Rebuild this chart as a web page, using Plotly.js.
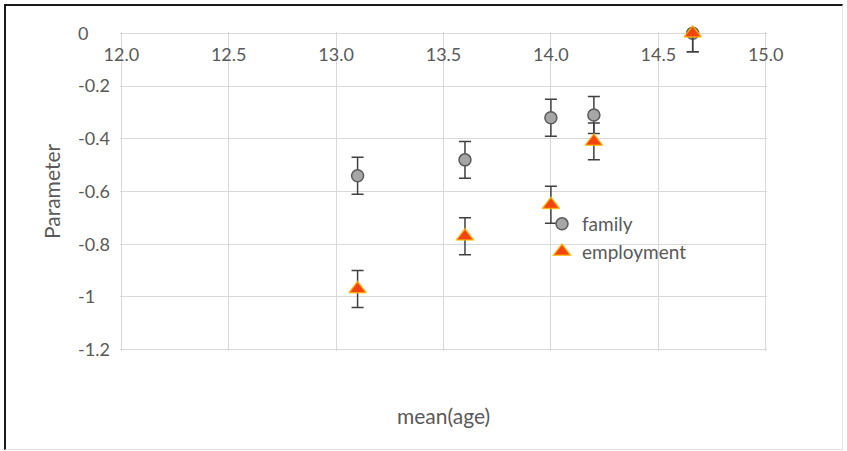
<!DOCTYPE html>
<html>
<head>
<meta charset="utf-8">
<script src="https://cdn.plot.ly/plotly-3.0.1.min.js"></script>
<style>
  html, body { margin: 0; padding: 0; background: #ffffff; }
  #wrap { position: relative; width: 847px; height: 451px; }
  #chart { width: 847px; height: 451px; }
  #frame { position: absolute; left: 4px; top: 4px; width: 836px; height: 443px;
           border-left: 2px solid #1a1a1a; border-top: 2px solid #1a1a1a;
           border-right: 1px solid #e2e2e2; border-bottom: 1px solid #e2e2e2;
           pointer-events: none; }
</style>
</head>
<body>
<div id="wrap">
  <div id="chart"></div>
  <div id="frame"></div>
</div>
<script>
// ---- data ----
const meanAge      = [13.1, 13.6, 14.0, 14.2, 14.66];
const familyParam  = [-0.54, -0.48, -0.32, -0.31, 0.0];
const familyErr    = [0.07, 0.07, 0.07, 0.07, 0.07];
const employParam  = [-0.97, -0.77, -0.65, -0.41, 0.0];
const employErr    = [0.07, 0.07, 0.07, 0.07, 0.07];
const xTickVals    = [12.0, 12.5, 13.0, 13.5, 14.0, 14.5, 15.0];
const xTickText    = ['12.0', '12.5', '13.0', '13.5', '14.0', '14.5', '15.0'];
const yTickVals    = [0, -0.2, -0.4, -0.6, -0.8, -1, -1.2];
const yTickText    = ['0', '-0.2', '-0.4', '-0.6', '-0.8', '-1', '-1.2'];
const seriesNames  = ['family', 'employment'];
const xTitle       = 'mean(age)';
const yTitle       = 'Parameter';

const FONT = 'Lato, "Open Sans", sans-serif';
const GRAY = '#595959';

const W = 847, H = 451;
const ML = 40, MR = 80, MT = 32, MB = 100;
const PW = W - ML - MR, PH = H - MT - MB;
const px2paperX = p => (p - ML) / PW;
const px2paperY = p => (H - MB - p) / PH;

const traces = [
  {
    type: 'scatter', mode: 'markers', name: seriesNames[0],
    x: meanAge, y: familyParam,
    error_y: { type: 'data', array: familyErr, visible: true, color: '#404040', thickness: 1.5, width: 6 },
    marker: { symbol: 'circle', size: 12, color: '#a6a6a6', line: { color: '#5a5a5a', width: 1.5 } },
    cliponaxis: false
  },
  {
    type: 'scatter', mode: 'markers', name: seriesNames[1],
    x: meanAge, y: employParam,
    error_y: { type: 'data', array: employErr, visible: true, color: '#404040', thickness: 1.5, width: 6 },
    marker: { symbol: 'triangle-up', size: 15, color: '#f2440f', line: { color: 'rgba(255,185,0,0.75)', width: 1.5 } },
    cliponaxis: false
  }
];

const layout = {
  width: W, height: H,
  margin: { l: ML, r: MR, t: MT, b: MB, pad: 0, autoexpand: false },
  paper_bgcolor: '#ffffff', plot_bgcolor: '#ffffff',
  font: { family: FONT, color: GRAY, size: 18 },
  showlegend: true,
  xaxis: {
    domain: [px2paperX(120), 1],
    range: [11.994, 15.006],
    tickvals: xTickVals, ticktext: xTickText,
    side: 'bottom', anchor: 'free', position: px2paperY(42),
    showline: false, ticks: '', zeroline: false,
    showgrid: true, gridcolor: '#d9d9d9', gridwidth: 1,
    tickfont: { family: FONT, size: 18, color: GRAY },
    title: { text: '' }, automargin: false
  },
  yaxis: {
    domain: [0, 1],
    range: [-1.205, 0.005],
    tickvals: yTickVals, ticktext: yTickText,
    side: 'right', anchor: 'free', position: px2paperX(77),
    showline: false, ticks: '', zeroline: false,
    showgrid: true, gridcolor: '#d9d9d9', gridwidth: 1,
    tickfont: { family: FONT, size: 18, color: GRAY },
    title: { text: '' }, automargin: false
  },
  legend: {
    xref: 'paper', yref: 'paper',
    x: px2paperX(542), y: px2paperY(205), xanchor: 'left', yanchor: 'top',
    bgcolor: 'rgba(255,255,255,0)', borderwidth: 0,
    font: { family: FONT, size: 19, color: GRAY }
  },
  shapes: [
    { type: 'rect', layer: 'between', xref: 'paper', yref: 'paper',
      x0: px2paperX(552), x1: px2paperX(742), y0: px2paperY(318), y1: px2paperY(210),
      fillcolor: '#ffffff', line: { width: 0 } }
  ],
  annotations: [
    { text: xTitle, xref: 'paper', yref: 'paper', x: px2paperX(443), y: px2paperY(415),
      xanchor: 'center', yanchor: 'middle', showarrow: false,
      font: { family: FONT, size: 21, color: GRAY } },
    { text: yTitle, xref: 'paper', yref: 'paper', x: px2paperX(52), y: px2paperY(192),
      xanchor: 'center', yanchor: 'middle', showarrow: false, textangle: -90,
      font: { family: FONT, size: 21, color: GRAY } }
  ],
  hovermode: false
};

Plotly.newPlot('chart', traces, layout, { displayModeBar: false, staticPlot: true });
</script>
</body>
</html>
